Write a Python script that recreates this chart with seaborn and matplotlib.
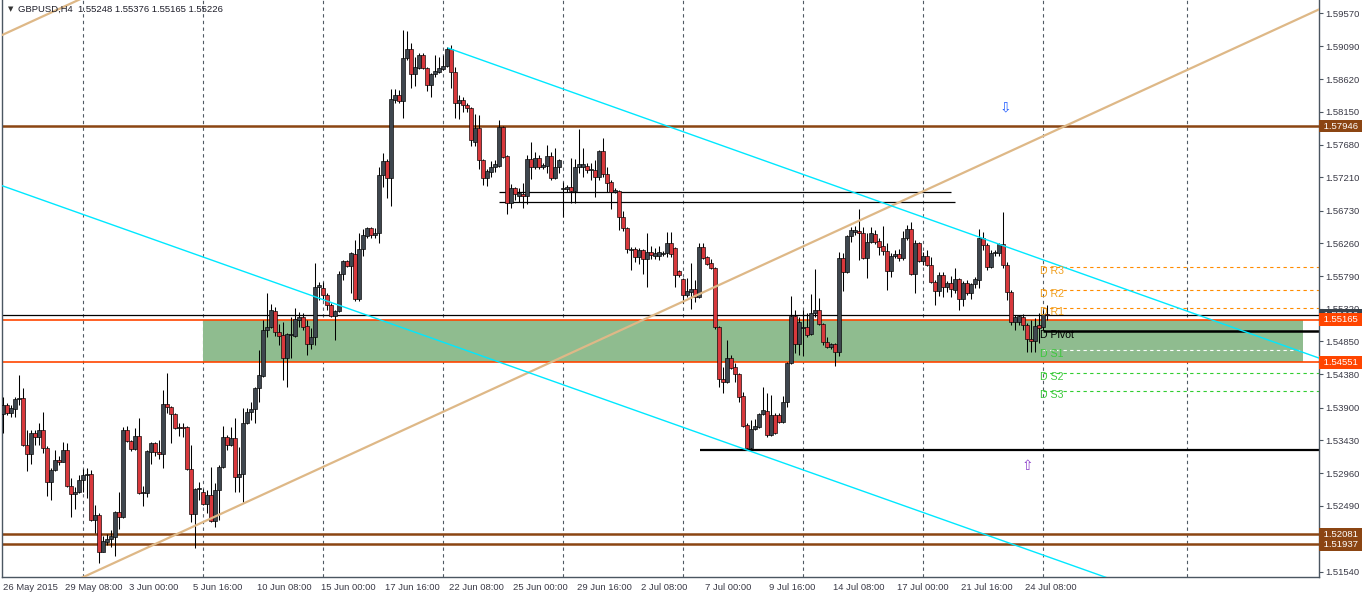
import numpy as np
import pandas as pd
import matplotlib
matplotlib.use("Agg")
import matplotlib.pyplot as plt
import matplotlib.transforms as mtransforms
import seaborn as sns

# GBPUSD H4 candles, bar 0 = 26 May 2015 00:00
opens = [1.5381, 1.5394, 1.5382, 1.5388, 1.5402, 1.5404, 1.5336, 1.5323, 1.5353, 1.5348,
         1.5358, 1.5332, 1.5283, 1.5300, 1.5315, 1.5312, 1.5329, 1.5277, 1.5266, 1.5269,
         1.5286, 1.5293, 1.5295, 1.5228, 1.5236, 1.5183, 1.5197, 1.5201, 1.5204, 1.5240,
         1.5233, 1.5358, 1.5342, 1.5330, 1.5349, 1.5267, 1.5267, 1.5326, 1.5339, 1.5326,
         1.5323, 1.5395, 1.5391, 1.5381, 1.5361, 1.5362, 1.5362, 1.5302, 1.5237, 1.5273,
         1.5269, 1.5251, 1.5264, 1.5227, 1.5272, 1.5305, 1.5348, 1.5336, 1.5346, 1.5290,
         1.5295, 1.5368, 1.5384, 1.5388, 1.5418, 1.5435, 1.5502, 1.5506, 1.5529, 1.5499,
         1.5494, 1.5461, 1.5494, 1.5493, 1.5516, 1.5520, 1.5507, 1.5481, 1.5491, 1.5563,
         1.5562, 1.5552, 1.5537, 1.5522, 1.5529, 1.5582, 1.5601, 1.5593, 1.5611, 1.5546,
         1.5618, 1.5637, 1.5648, 1.5638, 1.5641, 1.5724, 1.5744, 1.5720, 1.5832, 1.5839,
         1.5831, 1.5892, 1.5905, 1.5869, 1.5878, 1.5897, 1.5878, 1.5854, 1.5869, 1.5872,
         1.5877, 1.5881, 1.5905, 1.5872, 1.5828, 1.5832, 1.5825, 1.5820, 1.5772, 1.5792,
         1.5746, 1.5720, 1.5729, 1.5736, 1.5737, 1.5793, 1.5751, 1.5684, 1.5705, 1.5694,
         1.5697, 1.5694, 1.5747, 1.5736, 1.5749, 1.5736, 1.5737, 1.5752, 1.5720, 1.5736,
         1.5704, 1.5704, 1.5707, 1.5701, 1.5736, 1.5736, 1.5737, 1.5731, 1.5731, 1.5721,
         1.5759, 1.5726, 1.5714, 1.5700, 1.5701, 1.5664, 1.5648, 1.5616, 1.5618, 1.5606,
         1.5616, 1.5604, 1.5614, 1.5608, 1.5608, 1.5611, 1.5612, 1.5627, 1.5619, 1.5586,
         1.5575, 1.5552, 1.5556, 1.5560, 1.5549, 1.5621, 1.5606, 1.5598, 1.5591, 1.5506,
         1.5431, 1.5427, 1.5461, 1.5448, 1.5438, 1.5407, 1.5365, 1.5332, 1.5359, 1.5362,
         1.5381, 1.5385, 1.5351, 1.5379, 1.5379, 1.5369, 1.5398, 1.5454, 1.5522, 1.5481,
         1.5504, 1.5506, 1.5496, 1.5526, 1.5530, 1.5510, 1.5484, 1.5477, 1.5481, 1.5470,
         1.5605, 1.5585, 1.5637, 1.5642, 1.5644, 1.5641, 1.5605, 1.5628, 1.5639, 1.5629,
         1.5622, 1.5615, 1.5586, 1.5608, 1.5611, 1.5605, 1.5634, 1.5647, 1.5582, 1.5627,
         1.5601, 1.5608, 1.5595, 1.5570, 1.5558, 1.5581, 1.5563, 1.5569, 1.5559, 1.5575,
         1.5546, 1.5569, 1.5555, 1.5568, 1.5573, 1.5634, 1.5624, 1.5592, 1.5612, 1.5612,
         1.5625, 1.5595, 1.5556, 1.5513, 1.5513, 1.5520, 1.5509, 1.5489, 1.5486, 1.5509,
         1.5506, 1.55248]
highs = [1.5405, 1.5397, 1.5394, 1.5405, 1.5437, 1.5418, 1.5358, 1.5358, 1.5358, 1.5368,
         1.5384, 1.5335, 1.5303, 1.5329, 1.5320, 1.5341, 1.5339, 1.5289, 1.5276, 1.5293,
         1.5302, 1.5303, 1.5300, 1.5250, 1.5238, 1.5206, 1.5208, 1.5214, 1.5241, 1.5269,
         1.5362, 1.5364, 1.5343, 1.5361, 1.5375, 1.5277, 1.5329, 1.5341, 1.5341, 1.5343,
         1.5415, 1.5440, 1.5392, 1.5382, 1.5368, 1.5368, 1.5364, 1.5336, 1.5274, 1.5283,
         1.5273, 1.5272, 1.5305, 1.5282, 1.5308, 1.5364, 1.5351, 1.5362, 1.5375, 1.5333,
         1.5389, 1.5389, 1.5398, 1.5420, 1.5473, 1.5516, 1.5555, 1.5539, 1.5535, 1.5510,
         1.5513, 1.5497, 1.5520, 1.5533, 1.5527, 1.5526, 1.5516, 1.5504, 1.5598, 1.5570,
         1.5570, 1.5555, 1.5540, 1.5530, 1.5586, 1.5602, 1.5602, 1.5614, 1.5631, 1.5641,
         1.5647, 1.5649, 1.5650, 1.5648, 1.5736, 1.5756, 1.5747, 1.5848, 1.5848, 1.5846,
         1.5933, 1.5931, 1.5914, 1.5894, 1.5900, 1.5900, 1.5879, 1.5871, 1.5897, 1.5894,
         1.5897, 1.5908, 1.5911, 1.5879, 1.5839, 1.5836, 1.5828, 1.5822, 1.5812, 1.5810,
         1.5747, 1.5733, 1.5744, 1.5746, 1.5803, 1.5795, 1.5753, 1.5711, 1.5707, 1.5705,
         1.5713, 1.5753, 1.5772, 1.5757, 1.5753, 1.5741, 1.5767, 1.5757, 1.5763, 1.5747,
         1.5714, 1.5710, 1.5749, 1.5747, 1.5790, 1.5763, 1.5741, 1.5741, 1.5746, 1.5760,
         1.5777, 1.5736, 1.5717, 1.5705, 1.5703, 1.5672, 1.5650, 1.5621, 1.5621, 1.5619,
         1.5618, 1.5641, 1.5622, 1.5619, 1.5622, 1.5615, 1.5642, 1.5642, 1.5621, 1.5588,
         1.5576, 1.5576, 1.5598, 1.5573, 1.5627, 1.5627, 1.5608, 1.5604, 1.5592, 1.5507,
         1.5448, 1.5487, 1.5466, 1.5454, 1.5440, 1.5412, 1.5368, 1.5372, 1.5374, 1.5382,
         1.5420, 1.5411, 1.5408, 1.5382, 1.5382, 1.5407, 1.5456, 1.5550, 1.5530, 1.5520,
         1.5530, 1.5526, 1.5553, 1.5589, 1.5548, 1.5512, 1.5491, 1.5483, 1.5483, 1.5614,
         1.5612, 1.5638, 1.5650, 1.5651, 1.5675, 1.5650, 1.5641, 1.5650, 1.5645, 1.5634,
         1.5651, 1.5627, 1.5612, 1.5616, 1.5618, 1.5644, 1.5652, 1.5657, 1.5631, 1.5628,
         1.5614, 1.5616, 1.5606, 1.5573, 1.5585, 1.5585, 1.5572, 1.5579, 1.5591, 1.5576,
         1.5572, 1.5573, 1.5569, 1.5578, 1.5647, 1.5642, 1.5627, 1.5616, 1.5616, 1.5627,
         1.5671, 1.5599, 1.5559, 1.5523, 1.5523, 1.5524, 1.5512, 1.5516, 1.5519, 1.5526,
         1.5530, 1.55376]
lows = [1.5353, 1.5379, 1.5376, 1.5376, 1.5394, 1.5335, 1.5299, 1.5309, 1.5336, 1.5336,
        1.5325, 1.5263, 1.5257, 1.5299, 1.5308, 1.5312, 1.5276, 1.5233, 1.5244, 1.5267,
        1.5269, 1.5260, 1.5227, 1.5210, 1.5167, 1.5182, 1.5193, 1.5190, 1.5177, 1.5216,
        1.5231, 1.5341, 1.5328, 1.5329, 1.5266, 1.5249, 1.5262, 1.5309, 1.5320, 1.5316,
        1.5303, 1.5382, 1.5339, 1.5359, 1.5349, 1.5348, 1.5300, 1.5226, 1.5188, 1.5257,
        1.5250, 1.5238, 1.5226, 1.5218, 1.5228, 1.5303, 1.5329, 1.5335, 1.5269, 1.5269,
        1.5254, 1.5366, 1.5372, 1.5368, 1.5398, 1.5434, 1.5491, 1.5505, 1.5493, 1.5480,
        1.5430, 1.5420, 1.5461, 1.5491, 1.5506, 1.5502, 1.5466, 1.5474, 1.5480, 1.5545,
        1.5545, 1.5530, 1.5520, 1.5487, 1.5527, 1.5573, 1.5592, 1.5555, 1.5543, 1.5543,
        1.5608, 1.5634, 1.5634, 1.5634, 1.5627, 1.5707, 1.5691, 1.5680, 1.5828, 1.5828,
        1.5806, 1.5890, 1.5849, 1.5852, 1.5877, 1.5877, 1.5845, 1.5836, 1.5865, 1.5871,
        1.5875, 1.5879, 1.5849, 1.5806, 1.5805, 1.5815, 1.5815, 1.5766, 1.5766, 1.5733,
        1.5710, 1.5708, 1.5721, 1.5729, 1.5736, 1.5749, 1.5668, 1.5677, 1.5688, 1.5685,
        1.5677, 1.5683, 1.5719, 1.5733, 1.5733, 1.5733, 1.5727, 1.5717, 1.5719, 1.5727,
        1.5664, 1.5700, 1.5684, 1.5684, 1.5727, 1.5721, 1.5727, 1.5717, 1.5693, 1.5717,
        1.5721, 1.5700, 1.5675, 1.5698, 1.5645, 1.5644, 1.5612, 1.5588, 1.5599, 1.5596,
        1.5582, 1.5563, 1.5604, 1.5604, 1.5602, 1.5608, 1.5606, 1.5606, 1.5563, 1.5578,
        1.5540, 1.5549, 1.5532, 1.5542, 1.5547, 1.5604, 1.5595, 1.5589, 1.5503, 1.5420,
        1.5411, 1.5425, 1.5445, 1.5427, 1.5398, 1.5362, 1.5330, 1.5330, 1.5358, 1.5361,
        1.5379, 1.5348, 1.5349, 1.5352, 1.5368, 1.5368, 1.5391, 1.5453, 1.5468, 1.5466,
        1.5464, 1.5491, 1.5494, 1.5520, 1.5509, 1.5480, 1.5476, 1.5474, 1.5450, 1.5464,
        1.5558, 1.5583, 1.5628, 1.5638, 1.5602, 1.5604, 1.5576, 1.5627, 1.5625, 1.5609,
        1.5609, 1.5559, 1.5578, 1.5605, 1.5601, 1.5602, 1.5631, 1.5581, 1.5555, 1.5599,
        1.5595, 1.5593, 1.5569, 1.5537, 1.5550, 1.5549, 1.5556, 1.5549, 1.5555, 1.5530,
        1.5536, 1.5552, 1.5546, 1.5562, 1.5562, 1.5616, 1.5588, 1.5591, 1.5608, 1.5608,
        1.5591, 1.5545, 1.5509, 1.5502, 1.5509, 1.5502, 1.5470, 1.5470, 1.5470, 1.5483,
        1.5502, 1.55165]
closes = [1.5394, 1.5382, 1.5389, 1.5402, 1.5404, 1.5336, 1.5323, 1.5353, 1.5348, 1.5358,
          1.5332, 1.5283, 1.5300, 1.5315, 1.5312, 1.5329, 1.5277, 1.5266, 1.5269, 1.5286,
          1.5293, 1.5295, 1.5228, 1.5236, 1.5183, 1.5198, 1.5201, 1.5206, 1.5240, 1.5233,
          1.5358, 1.5342, 1.5330, 1.5349, 1.5267, 1.5269, 1.5328, 1.5339, 1.5326, 1.5323,
          1.5395, 1.5391, 1.5381, 1.5361, 1.5362, 1.5361, 1.5302, 1.5237, 1.5273, 1.5274,
          1.5251, 1.5264, 1.5227, 1.5272, 1.5305, 1.5348, 1.5336, 1.5346, 1.5290, 1.5295,
          1.5368, 1.5384, 1.5388, 1.5418, 1.5437, 1.5502, 1.5506, 1.5530, 1.5499, 1.5493,
          1.5461, 1.5496, 1.5496, 1.5517, 1.5520, 1.5506, 1.5481, 1.5491, 1.5563, 1.5566,
          1.5552, 1.5537, 1.5522, 1.5529, 1.5582, 1.5601, 1.5593, 1.5612, 1.5546, 1.5618,
          1.5638, 1.5648, 1.5638, 1.5641, 1.5724, 1.5744, 1.5720, 1.5833, 1.5839, 1.5831,
          1.5892, 1.5905, 1.5869, 1.5879, 1.5897, 1.5878, 1.5854, 1.5869, 1.5874, 1.5878,
          1.5881, 1.5905, 1.5872, 1.5828, 1.5832, 1.5825, 1.5820, 1.5774, 1.5792, 1.5746,
          1.5720, 1.5730, 1.5736, 1.5740, 1.5793, 1.5750, 1.5684, 1.5705, 1.5697, 1.5698,
          1.5694, 1.5747, 1.5736, 1.5749, 1.5736, 1.5739, 1.5752, 1.5720, 1.5736, 1.5746,
          1.5705, 1.5707, 1.5701, 1.5736, 1.5740, 1.5740, 1.5731, 1.5733, 1.5721, 1.5759,
          1.5726, 1.5713, 1.5700, 1.5703, 1.5664, 1.5648, 1.5618, 1.5618, 1.5606, 1.5616,
          1.5604, 1.5614, 1.5609, 1.5612, 1.5614, 1.5612, 1.5627, 1.5611, 1.5581, 1.5581,
          1.5552, 1.5558, 1.5560, 1.5549, 1.5621, 1.5605, 1.5596, 1.5591, 1.5506, 1.5431,
          1.5427, 1.5461, 1.5447, 1.5438, 1.5405, 1.5364, 1.5332, 1.5359, 1.5364, 1.5381,
          1.5387, 1.5351, 1.5379, 1.5353, 1.5369, 1.5398, 1.5454, 1.5522, 1.5481, 1.5513,
          1.5506, 1.5494, 1.5526, 1.5530, 1.5510, 1.5484, 1.5477, 1.5481, 1.5470, 1.5605,
          1.5585, 1.5637, 1.5645, 1.5645, 1.5641, 1.5605, 1.5628, 1.5641, 1.5628, 1.5621,
          1.5615, 1.5586, 1.5608, 1.5611, 1.5605, 1.5634, 1.5647, 1.5582, 1.5627, 1.5601,
          1.5608, 1.5595, 1.5570, 1.5558, 1.5581, 1.5563, 1.5569, 1.5560, 1.5575, 1.5546,
          1.5569, 1.5555, 1.5568, 1.5575, 1.5634, 1.5624, 1.5592, 1.5612, 1.5614, 1.5625,
          1.5595, 1.5556, 1.5513, 1.5520, 1.5522, 1.5509, 1.5489, 1.5486, 1.5507, 1.5504,
          1.5525, 1.55226]

# time axis labels (bar index of the labelled time)
date_bars = [0, 20, 36, 52, 68, 84, 100, 116, 132, 148, 164, 180, 196, 212, 228, 244, 260]
date_labels = ["26 May 2015", "29 May 08:00", "3 Jun 00:00", "5 Jun 16:00", "10 Jun 08:00",
               "15 Jun 00:00", "17 Jun 16:00", "22 Jun 08:00", "25 Jun 00:00", "29 Jun 16:00",
               "2 Jul 08:00", "7 Jul 00:00", "9 Jul 16:00", "14 Jul 08:00", "17 Jul 00:00",
               "21 Jul 16:00", "24 Jul 08:00"]
grid_bars = [20, 50, 80, 110, 140, 170, 200, 230, 260, 296]
price_ticks = [1.59570, 1.59090, 1.58620, 1.58150, 1.57680, 1.57210, 1.56730, 1.56260, 1.55790,
               1.55320, 1.54850, 1.54380, 1.53900, 1.53430, 1.52960, 1.52490, 1.52020, 1.51540]
hidden_ticks = [1.52020]  # covered by the support labels

# drawn objects
brown_levels = [1.57946, 1.52081, 1.51937]
zone_top, zone_bottom = 1.55165, 1.54551
zone_bars = [50, 325]
bid = 1.55226
box_lines = [(124, 237, 1.5700), (124, 238, 1.5686)]
support_line = (174.25, 1.5329)
pivots = {"R3": 1.5592, "R2": 1.5559, "R1": 1.5533, "Pivot": 1.5500,
          "S1": 1.5473, "S2": 1.5440, "S3": 1.5414}
pivot_start = 260
trend_up = ([0, 329], [1.50935, 1.59622])
trend_up2 = ([-0.25, 25], [1.59253, 1.59919])
chan_top = ([111.25, 329], [1.59067, 1.54612])
chan_bot = ([-0.25, 300], [1.57089, 1.50966])
arrow_down = (250.5, 1.5822)
arrow_up = (256, 1.5306)

df = pd.DataFrame({"open": opens, "high": highs, "low": lows, "close": closes})
df["high"] = np.maximum(df["high"], df[["open", "close"]].max(axis=1))
df["low"] = np.minimum(df["low"], df[["open", "close"]].min(axis=1))
df["bar"] = np.arange(len(df))

sns.set_style("white")
plt.rcParams['font.family'] = ['Liberation Sans', 'DejaVu Sans']

W, H = 1362, 594
fig = plt.figure(figsize=(W / 100, H / 100), dpi=100)
ax = fig.add_axes([2 / W, 17 / H, 1317 / W, 577 / H])
xmax = 329
ax.set_xlim(-0.25, xmax)
ax.set_ylim(1.51466, 1.59757)

txt = "#3a3a46"
axc = "#4b5661"

for b in grid_bars:
    ax.axvline(b, color="#505a64", lw=0.8, ls=(0, (3, 3)), zorder=0)

ax.fill_between(zone_bars, zone_bottom, zone_top, color="#8fbc8f", lw=0, zorder=0.5)

for lv in brown_levels:
    ax.axhline(lv, color="#8b4513", lw=1.8, zorder=1)
for lv in (zone_top, zone_bottom):
    ax.axhline(lv, color="#ff4500", lw=1.2, zorder=1)
ax.axhline(bid, color="black", lw=0.9, zorder=1)
for x0, x1, lv in box_lines:
    ax.hlines(lv, x0, x1, color="black", lw=0.9, zorder=1)
ax.hlines(support_line[1], support_line[0], xmax, color="black", lw=1.6, zorder=1)

# pivot levels
ax.hlines(pivots["Pivot"], pivot_start, xmax, color="black", lw=1.8, zorder=1)
for k in ["R3", "R2", "R1"]:
    ax.hlines(pivots[k], pivot_start, xmax, color="#ff8c00", lw=0.8, ls=(0, (3, 3)), zorder=1)
ax.hlines(pivots["S1"], pivot_start, xmax, color="white", lw=0.8, ls=(0, (3, 3)), zorder=1)
for k in ["S2", "S3"]:
    ax.hlines(pivots[k], pivot_start, xmax, color="#32cd32", lw=0.8, ls=(0, (3, 3)), zorder=1)
for k, v in pivots.items():
    col = "#f0a020" if k.startswith("R") else ("black" if k == "Pivot" else "#3cc83c")
    ax.text(259.3, v + 0.0001, "D " + k, color=col, fontsize=7.6, ha="left", va="top", zorder=6)

# candles
up = df["close"] >= df["open"]
ax.vlines(df["bar"], df["low"], df["high"], color="black", lw=0.75, zorder=3)
body_low = df[["open", "close"]].min(axis=1)
body_h = (df["close"] - df["open"]).abs().clip(lower=0.00003)
ax.bar(df["bar"], body_h, bottom=body_low, width=0.8,
       color=np.where(up, "#3e464e", "#d8383c"), edgecolor="black", linewidth=0.45, zorder=4)

# trend lines
for xs, ys, col, lw in [(trend_up[0], trend_up[1], "#deb887", 1.6),
                        (trend_up2[0], trend_up2[1], "#deb887", 1.6),
                        (chan_top[0], chan_top[1], "#00e8ff", 1.0),
                        (chan_bot[0], chan_bot[1], "#00e8ff", 1.0)]:
    sns.lineplot(x=xs, y=ys, ax=ax, color=col, lw=lw, legend=False, zorder=5)

ax.text(arrow_down[0], arrow_down[1], "\u21e9", color="#1f5bff", fontsize=10,
        ha="center", va="center", family=["DejaVu Sans"], zorder=6)
ax.text(arrow_up[0], arrow_up[1], "\u21e7", color="#8a3cc8", fontsize=10,
        ha="center", va="center", family=["DejaVu Sans"], zorder=6)

# header
ax.text(0.0046, 0.984, "\u25bc", transform=ax.transAxes, fontsize=5, color="#333",
        ha="left", va="center", family=["DejaVu Sans"], zorder=10)
ax.text(0.0122, 0.984,
        f"GBPUSD,H4  {opens[-1]:.5f} {highs[-1]:.5f} {lows[-1]:.5f} {closes[-1]:.5f}",
        transform=ax.transAxes, fontsize=6.8, color="#1e1e2a", ha="left", va="center", zorder=10)

# axes styling
ax.spines["top"].set_visible(False)
for s in ["left", "right", "bottom"]:
    ax.spines[s].set_color(axc)
    ax.spines[s].set_linewidth(1.0)

ax.yaxis.tick_right()
ax.set_yticks(price_ticks)
ax.set_yticklabels(["" if v in hidden_ticks else f"{v:.5f}" for v in price_ticks])
ax.tick_params(axis="y", direction="out", length=3, width=0.8, pad=1.5,
               labelsize=6.8, colors=axc, labelcolor=txt)

xt = [max(b - 4.4, -0.1) for b in date_bars]
ax.set_xticks(xt)
ax.set_xticklabels(date_labels)
ax.tick_params(axis="x", direction="out", length=3, width=0.8, pad=1.5,
               labelsize=6.8, colors=axc, labelcolor=txt)
for lbl in ax.get_xticklabels():
    lbl.set_horizontalalignment("left")
ax.set_xlabel("")
ax.set_ylabel("")

# price labels on the right scale
tr = mtransforms.blended_transform_factory(ax.transAxes, ax.transData)
labels = [(bid, "#38424c"), (1.57946, "#8b4513"), (1.52081, "#8b4513"), (1.51937, "#8b4513"),
          (zone_top, "#ff4500"), (zone_bottom, "#ff4500")]
for i, (v, c) in enumerate(labels):
    ax.text(1.0015, v, f" {v:.5f} ", transform=tr, fontsize=6.8, color="white",
            ha="left", va="center", clip_on=False, zorder=7 + i,
            bbox=dict(boxstyle="square,pad=0.2", fc=c, ec="none"))

fig.savefig("out.png", dpi=100)
